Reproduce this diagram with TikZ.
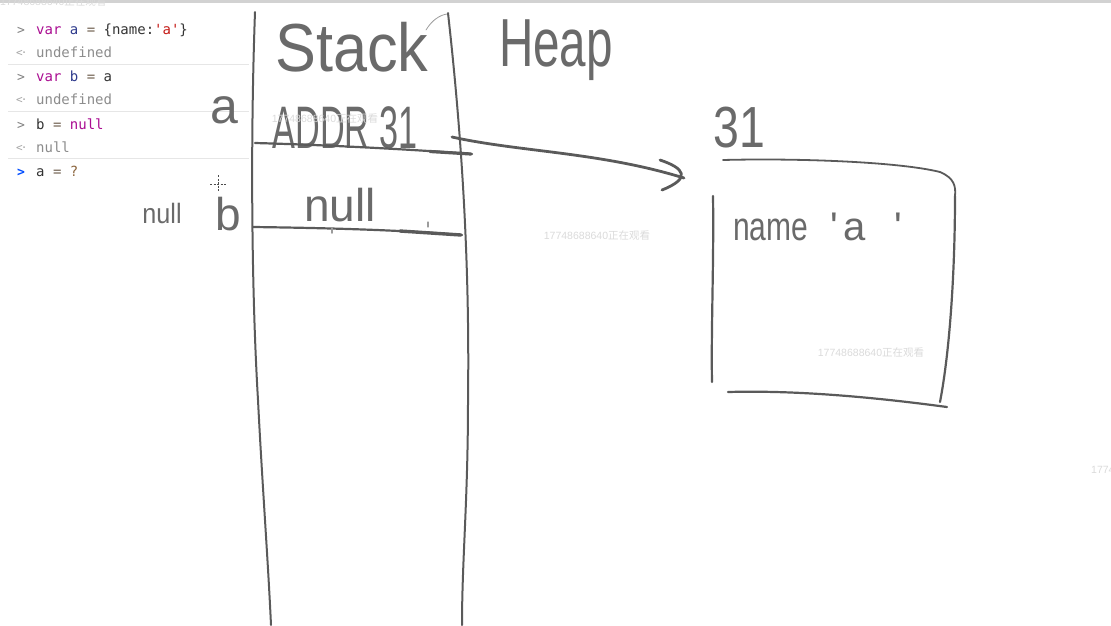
\documentclass[tikz,border=0pt]{standalone}
\usepackage{fontspec}
\setmainfont{Liberation Sans}
\setmonofont{DejaVu Sans Mono}
\newfontfamily\cjkfont{Noto Sans CJK SC}
\usepackage{xcolor}
\usetikzlibrary{positioning}

\definecolor{kwc}{HTML}{AA0D91}
\definecolor{idc}{HTML}{2E3A8C}
\definecolor{opc}{HTML}{6E5E4E}
\definecolor{strc}{HTML}{C41A16}
\definecolor{pen}{HTML}{5A5A5A}
\definecolor{ink}{HTML}{6A6A6A}
\definecolor{sepc}{HTML}{E6E6E6}
\definecolor{wmc}{HTML}{DADADA}

\newcommand{\viewer}{17748688640{\cjkfont 正在观看}}
\newcommand{\fsz}[1]{\fontsize{#1}{#1}\selectfont}

\begin{document}
\begin{tikzpicture}[x=1pt, y=-1pt,
  code/.style={anchor=base west, inner sep=0pt, text=black!80, font=\ttfamily\fsz{14}},
  prompt/.style={anchor=base west, inner sep=0pt, text=gray, font=\ttfamily\fsz{13}},
  result/.style={anchor=base west, inner sep=0pt, text=gray!70, font=\ttfamily\fsz{11}},
  hand/.style={inner sep=0pt, text=ink},
  penline/.style={draw=pen, line width=2.2pt, line cap=round, line join=round},
  thinpen/.style={draw=pen!60, line width=0.8pt, line cap=round},
  wmtext/.style={inner sep=0pt, text=wmc, font=\fsz{10.5}}]
\useasboundingbox (0,0) rectangle (1111,625);
\fill[gray!35] (0,0) rectangle (1111,3);

% console
\foreach \yy in {64,111,158} \draw[sepc, line width=1pt] (8,\yy) -- (249,\yy);
\node[prompt] (p1) at (17,34) {>};
\node[code] (l1) at (36,34) {{\color{kwc}var} {\color{idc}a} {\color{opc}=} \{name:{\color{strc}'a'}\}};
\node[result] (r1) at (16,56) {<\kern-2pt·};
\node[code, text=gray!90] (o1) at (36,57) {undefined};
\node[prompt] (p2) at (17,81) {>};
\node[code] (l2) at (36,81) {{\color{kwc}var} {\color{idc}b} {\color{opc}=} a};
\node[result] (r2) at (16,103) {<\kern-2pt·};
\node[code, text=gray!90] (o2) at (36,104) {undefined};
\node[prompt] (p3) at (17,129) {>};
\node[code] (l3) at (36,129) {b {\color{opc}=} {\color{kwc}null}};
\node[result] (r3) at (16,151) {<\kern-2pt·};
\node[code, text=gray!90] (o3) at (36,152) {null};
\node[prompt, text=blue!70!cyan, font=\ttfamily\bfseries\fsz{13}] (p4) at (17,176) {>};
\node[code] (l4) at (36,176) {a {\color{opc}=} {\color{opc!80!orange}?}};

% cursor
\draw[black!70, line width=0.8pt, dash pattern=on 2pt off 1.5pt] (210,184) -- (227,184);
\draw[black!70, line width=0.8pt, dash pattern=on 2pt off 1.5pt] (218,175) -- (218,192);

% stack
\draw[penline, line width=2pt] (255,12) .. controls (250,150) and (252,300) .. (258,400) .. controls (262,480) and (268,560) .. (271,625);
\draw[penline, line width=2pt] (448,13) .. controls (460,120) and (470,250) .. (468,400) .. controls (468,500) and (462,560) .. (462,625);
\draw[thinpen] (426,30) .. controls (432,20) and (440,15) .. (447,14);
\node[hand, font=\fsz{68}] (stk) at (352,47) {\scalebox{0.9}[1]{Stack}};
\node[hand, font=\fsz{68}] (hp) at (556,50) {\scalebox{0.7}[1]{Heap}};

\node[hand, font=\fsz{50}] (va) at (224,110) {a};
\node[hand, font=\fsz{46}] (vb) at (228,214) {b};
\node[hand, font=\fsz{28}] (vn) at (162,213) {\scalebox{0.9}[1]{null}};

\node[hand, font=\fsz{60}] (addr) at (345,128) {\scalebox{0.57}[1]{ADDR 31}};
\node[hand, font=\fsz{46}] (cnull) at (340,205) {null};
\draw[penline] (255,143) .. controls (330,145) and (420,150) .. (472,154);
\draw[penline, line width=3.2pt] (430,151.5) -- (471,154);
\draw[penline] (253,227) .. controls (330,228) and (400,230) .. (462,235);
\draw[penline, line width=3.4pt] (400,231) -- (461,235);
\draw[thinpen, line width=1.5pt] (332,228) -- (332,233);
\draw[thinpen, line width=1.2pt] (428,222) -- (428,227);

% pointer
\coordinate (ptr) at (452,137);
\coordinate (tip) at (684,178);
\draw[penline, line width=2.8pt] (ptr) .. controls (520,152) and (600,152) .. (tip);
\draw[penline, line width=2.8pt] (660,160) .. controls (684,168) and (692,178) .. (662,190);

% heap object
\node[hand, font=\fsz{58}] (n31) at (739,128) {\scalebox{0.8}[1]{31}};
\draw[penline, line width=1.8pt] (723,160) .. controls (800,158) and (900,162) .. (940,172) .. controls (954,178) and (956,186) .. (955,196);
\draw[penline] (955,196) .. controls (955,270) and (950,350) .. (940,402);
\draw[penline] (713,196) .. controls (714,260) and (711,330) .. (712,382);
\draw[penline] (728,392) .. controls (800,390) and (880,398) .. (947,407);
\node[hand, font=\fsz{40}, anchor=base west] (field) at (733,240) {\scalebox{0.75}[1]{name}\hspace{22pt}\textquotesingle\hspace{6pt}a\hspace{28pt}\textquotesingle};

% watermarks
\begin{scope}
\clip (0,0) rectangle (1111,625);
\node[wmtext] (w1) at (597,236) {\viewer};
\node[wmtext] (w2) at (871,353) {\viewer};
\node[wmtext] (w3) at (325,119) {\viewer};
\node[wmtext, anchor=west] (w4) at (1091,470) {\viewer};
\node[wmtext, anchor=west] (w5) at (0,2) {\viewer};
\end{scope}
\end{tikzpicture}
\end{document}
